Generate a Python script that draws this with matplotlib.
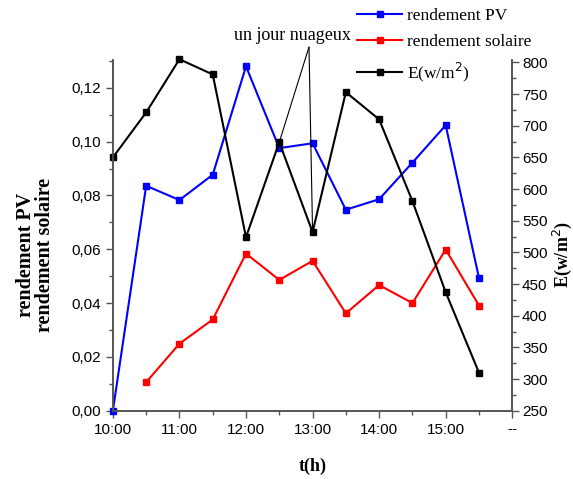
import matplotlib
matplotlib.use("Agg")
import matplotlib.pyplot as plt
from matplotlib.ticker import MultipleLocator

# heures de mesure (10:00 -> 15:30, pas de 30 min)
hours = [10.0, 10.5, 11.0, 11.5, 12.0, 12.5, 13.0, 13.5, 14.0, 14.5, 15.0, 15.5]
rend_pv = [0.0, 0.0836, 0.0783, 0.0877, 0.128, 0.0976, 0.0994, 0.0747, 0.0786, 0.0922, 0.1061, 0.0493]
rend_sol_hours = [10.5, 11.0, 11.5, 12.0, 12.5, 13.0, 13.5, 14.0, 14.5, 15.0, 15.5]
rend_sol = [0.0106, 0.0249, 0.0339, 0.0584, 0.0486, 0.0557, 0.0362, 0.0467, 0.0400, 0.0599, 0.0391]
irradiance = [650, 721, 805, 781, 524, 674, 532, 753, 710, 581, 437, 310]

xticks = [10, 11, 12, 13, 14, 15, 16]
xticklabels = ["10:00", "11:00", "12:00", "13:00", "14:00", "15:00", "--"]

SANS = "Liberation Sans"
SERIF = "Liberation Serif"
SPINE = "#555555"

fig = plt.figure(figsize=(5.73, 4.79), dpi=100)
ax = fig.add_axes([0.197, 0.1426, 0.697, 0.7324])
ax2 = ax.twinx()

l1, = ax.plot(hours, rend_pv, color="#0000ff", lw=1.5, marker="s", ms=5,
              clip_on=False, label="rendement PV")
l2, = ax.plot(rend_sol_hours, rend_sol, color="#ff0000", lw=1.5, marker="s", ms=5,
              clip_on=False, label="rendement solaire")
l3, = ax2.plot(hours, irradiance, color="black", lw=1.5, marker="s", ms=5,
               clip_on=False, label="E(w/m$^2$)")

ax.set_xlim(10, 16)
ax.set_ylim(0, 0.1304)
ax2.set_ylim(250, 804)

ax.set_xticks(xticks)
ax.set_xticklabels(xticklabels, fontfamily=SANS, fontsize=11)
ax.xaxis.set_minor_locator(MultipleLocator(0.5))
ax.yaxis.set_major_locator(MultipleLocator(0.02))
ax.yaxis.set_minor_locator(MultipleLocator(0.01))
ax.yaxis.set_major_formatter(plt.FuncFormatter(lambda v, p: f"{v:.2f}".replace(".", ",")))
ax2.yaxis.set_major_locator(MultipleLocator(50))
ax2.yaxis.set_minor_locator(MultipleLocator(25))

for a in (ax, ax2):
    a.spines["top"].set_visible(False)
    for s in a.spines.values():
        s.set_color(SPINE)
        s.set_linewidth(1.2)
    a.tick_params(which="both", direction="out", color=SPINE, width=1.0)
    a.tick_params(which="major", length=5)
    a.tick_params(which="minor", length=3)
    for lab in a.get_yticklabels():
        lab.set_fontfamily(SANS)
        lab.set_fontsize(11)
ax2.tick_params(axis="y", pad=2)

ax.set_xlabel("t(h)", fontfamily=SERIF, fontweight="bold", fontsize=13)
ax.xaxis.set_label_coords(0.5, -0.135)
ax.set_ylabel("rendement PV\nrendement solaire", fontfamily=SERIF, fontweight="bold",
              fontsize=14.5, linespacing=0.9)
ax.yaxis.set_label_coords(-0.145, 0.444)
ax2.set_ylabel("E(w/m$^2$)", fontfamily=SERIF, fontweight="bold", fontsize=13)
ax2.yaxis.set_label_coords(1.097, 0.444)

# annotation "un jour nuageux" vers les points 12:30 et 13:00
fig.text(292 / 573, 1 - 36 / 479, "un jour nuageux", ha="center", va="center",
         fontfamily=SERIF, fontsize=13)
for h in (12.5, 13.0):
    i = hours.index(h)
    ax2.annotate("", xy=(h, irradiance[i]), xycoords="data",
                 xytext=(309 / 573, 1 - 47 / 479), textcoords="figure fraction",
                 arrowprops=dict(arrowstyle="-", lw=0.8, color="black",
                                 shrinkA=0, shrinkB=0))

fig.legend(handles=[l1, l2, l3], loc="upper left", bbox_to_anchor=(357 / 573, 0.984),
           frameon=False, borderpad=0, borderaxespad=0, handlelength=2.6,
           handletextpad=0.3, labelspacing=0.6,
           prop={"family": SERIF, "size": 12.5})

fig.savefig("out.png", dpi=100)
